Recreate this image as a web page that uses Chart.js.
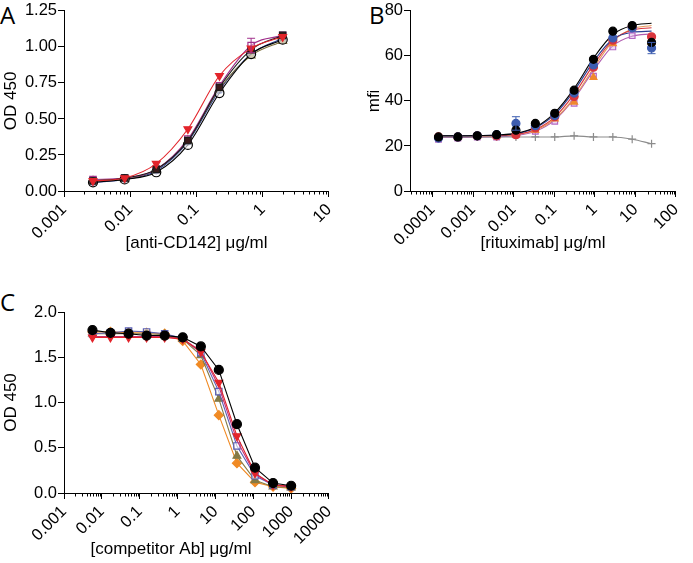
<!DOCTYPE html>
<html><head><meta charset="utf-8">
<script src="https://cdn.jsdelivr.net/npm/chart.js@4/dist/chart.umd.min.js"></script>
<style>
html,body{margin:0;padding:0;background:#fff;width:693px;height:563px;overflow:hidden;position:relative}
canvas{position:absolute}
.lbl{position:absolute;font-family:"Open Sans",sans-serif;font-size:24px;color:#000;line-height:1}
</style></head><body>
<div class="lbl" style="left:0;top:3px">A</div>
<div class="lbl" style="left:369px;top:3px">B</div>
<div class="lbl" style="left:0;top:290px">C</div>
<canvas id="cA" width="346" height="262" style="left:0;top:0"></canvas>
<canvas id="cB" width="347" height="262" style="left:346px;top:0"></canvas>
<canvas id="cC" width="346" height="293" style="left:0;top:270px"></canvas>
<script>
// ---------- Panel A ----------
const concA = [0.00274, 0.00823, 0.0247, 0.0741, 0.222, 0.667, 2];
const A_openCircle = [0.06, 0.08, 0.13, 0.32, 0.68, 0.95, 1.05];
const A_blackSquare = [0.07, 0.09, 0.15, 0.35, 0.72, 0.98, 1.08];
const A_redTriangle = [0.07, 0.09, 0.19, 0.43, 0.80, 0.99, 1.07];
const A_magentaSquare = [0.08, 0.09, 0.15, 0.36, 0.73, 1.01, 1.08];
const A_oliveTriangle = [0.07, 0.08, 0.15, 0.35, 0.71, 0.94, 1.04];
const A_blue = [0.06, 0.08, 0.14, 0.34, 0.70, 0.95, 1.06];
const xTicksA = [0.001, 0.01, 0.1, 1, 10];
const yTicksA = [0, 0.25, 0.5, 0.75, 1.0, 1.25];
const errA = [[3, 5, 0.96, 1.06]];

// ---------- Panel B ----------
const concB = [0.000141, 0.000423, 0.00127, 0.00381, 0.0114, 0.0343, 0.103, 0.309, 0.926, 2.78, 8.33, 25];
const B_black = [24, 24, 24.5, 25, 27, 30, 34.5, 44.8, 58.5, 71, 73.5, 66];
const B_blue = [23.5, 24, 24.5, 25, 30, 29, 33.5, 43.5, 56, 68, 72.5, 63.5];
const B_red = [24, 24, 24.5, 24.5, 25, 28, 33, 42, 55, 67, 73, 68.5];
const B_orange = [24, 24, 24.5, 24.5, 25, 27, 32, 39.5, 50.5, 65.5, 72.5, 66];
const B_pink = [23, 23.5, 24, 24, 25, 26.5, 31, 39, 51, 64, 69, 65];
const B_control = [24, 24, 24, 24, 24, 24, 24, 24.5, 24, 24, 23, 21];
const B_fitBlack = [24.5, 24.5, 24.6, 24.9, 25.6, 28.3, 34.8, 45.5, 59, 69.5, 73.5, 74.5];
const B_fitBlue = [24.5, 24.5, 24.6, 24.9, 25.5, 28, 34, 44.5, 57.5, 67.5, 70.5, 71];
const B_fitRed = [24.3, 24.3, 24.4, 24.6, 25.1, 27.3, 32.8, 43, 56, 67, 71.5, 72.5];
const B_fitOrange = [24.3, 24.3, 24.4, 24.6, 25, 27, 32, 41.5, 54.5, 66.5, 72, 73.5];
const B_fitPink = [23.8, 23.8, 23.9, 24.1, 24.6, 26.5, 31.5, 41, 53.5, 64.5, 68.8, 69.8];
const xTicksB = [0.0001, 0.001, 0.01, 0.1, 1, 10, 100];
const yTicksB = [0, 20, 40, 60, 80];
const errB = [[1, 4, 27, 33], [1, 11, 61, 66]];

// ---------- Panel C ----------
const concC = [0.00565, 0.0169, 0.0508, 0.152, 0.457, 1.37, 4.12, 12.3, 37, 111, 333, 1000];
const C_black = [1.80, 1.77, 1.76, 1.74, 1.74, 1.72, 1.62, 1.36, 0.76, 0.28, 0.11, 0.08];
const C_red = [1.72, 1.72, 1.72, 1.72, 1.72, 1.70, 1.56, 1.22, 0.63, 0.22, 0.09, 0.07];
const C_magenta = [1.73, 1.73, 1.73, 1.73, 1.73, 1.70, 1.57, 1.18, 0.58, 0.21, 0.09, 0.07];
const C_purpleSquare = [1.76, 1.77, 1.79, 1.78, 1.76, 1.71, 1.55, 1.12, 0.52, 0.19, 0.09, 0.07];
const C_olive = [1.76, 1.76, 1.76, 1.76, 1.75, 1.70, 1.52, 1.04, 0.41, 0.14, 0.07, 0.06];
const C_orange = [1.78, 1.78, 1.77, 1.77, 1.76, 1.68, 1.42, 0.86, 0.33, 0.12, 0.07, 0.05];
const xTicksC = [0.001, 0.01, 0.1, 1, 10, 100, 1000, 10000];
const yTicksC = [0, 0.5, 1.0, 1.5, 2.0];

const FONT = '"Liberation Sans", Arial, sans-serif';
const pts = (xs, ys) => xs.map((x, i) => ({x, y: ys[i]}));

const minorTicks = {
  id: 'minorTicks',
  afterDraw(chart) {
    const s = chart.scales.x, ctx = chart.ctx;
    ctx.save(); ctx.strokeStyle = '#000'; ctx.lineWidth = 1;
    const lo = Math.floor(Math.log10(s.min)), hi = Math.ceil(Math.log10(s.max));
    for (let e = lo; e < hi; e++) for (let k = 2; k <= 9; k++) {
      const v = k * Math.pow(10, e);
      if (v < s.min || v > s.max) continue;
      const x = Math.round(s.getPixelForValue(v)) + 0.5;
      ctx.beginPath(); ctx.moveTo(x, s.top); ctx.lineTo(x, s.top + 3.5); ctx.stroke();
    }
    ctx.restore();
  }
};
const errorBars = {
  id: 'errorBars',
  afterDatasetsDraw(chart, args, opts) {
    const list = opts.list || []; if (!list.length) return;
    const ctx = chart.ctx, xs = chart.scales.x, ys = chart.scales.y;
    ctx.save(); ctx.lineWidth = 1;
    list.forEach(([di, pi, lo, hi]) => {
      const ds = chart.data.datasets[di]; const p = ds.data[pi];
      const x = xs.getPixelForValue(p.x);
      ctx.strokeStyle = ds.borderColor;
      [lo, hi].forEach(v => {
        const y = ys.getPixelForValue(v), y0 = ys.getPixelForValue(p.y);
        ctx.beginPath(); ctx.moveTo(x, y0); ctx.lineTo(x, y);
        ctx.moveTo(x - 4, y); ctx.lineTo(x + 4, y); ctx.stroke();
      });
    });
    ctx.restore();
  }
};

function fmtLog(v) { return String(Number(v.toPrecision(1))); }

function makeChart(id, datasets, o) {
  return new Chart(document.getElementById(id), {
    type: 'scatter',
    data: { datasets },
    plugins: [minorTicks, errorBars],
    options: {
      responsive: false, animation: false, devicePixelRatio: 1,
      layout: { padding: o.padding },
      plugins: { legend: { display: false }, tooltip: { enabled: false }, errorBars: { list: o.err || [] } },
      scales: {
        x: {
          type: 'logarithmic', min: o.xmin, max: o.xmax,
          afterBuildTicks: s => { s.ticks = o.xt.map(v => ({ value: v, major: true })); },
          afterFit: s => { s.height = o.xh; },
          ticks: { autoSkip: false, minRotation: 45, maxRotation: 45, color: '#000', padding: 3,
                   font: { family: FONT, size: 16.5 }, callback: v => fmtLog(v) },
          grid: { display: true, drawOnChartArea: false, drawTicks: true, tickLength: 6, tickColor: '#000', color: '#000' },
          border: { display: true, color: '#000', width: 1 },
          title: { display: true, text: o.xtitle, color: '#000', font: { family: FONT, size: 17 }, padding: { top: 0, bottom: o.xtp } }
        },
        y: {
          type: 'linear', min: o.ymin, max: o.ymax,
          afterBuildTicks: s => { s.ticks = o.yt.map(v => ({ value: v })); },
          afterFit: s => { s.width = 64; },
          ticks: { color: '#000', padding: 1, font: { family: FONT, size: 16.5 }, callback: v => o.yfmt(v) },
          grid: { display: true, drawOnChartArea: false, drawTicks: true, tickLength: 6, tickColor: '#000', color: '#000' },
          border: { display: true, color: '#000', width: 1 },
          title: { display: true, text: o.ytitle, color: '#000', font: { family: FONT, size: 17 }, padding: { top: o.ytp, bottom: 0 } }
        }
      }
    }
  });
}

function mark(data, style, color, fill, extra) {
  return Object.assign({ data, showLine: false, pointStyle: style, pointRadius: 4.5, borderColor: color,
    backgroundColor: fill, pointBorderWidth: 1.2 }, extra || {});
}
function curve(data, color, extra) {
  return Object.assign({ data, showLine: true, pointRadius: 0, borderColor: color, borderWidth: 1.1,
    cubicInterpolationMode: 'monotone', fill: false }, extra || {});
}
function markLine(data, style, color, fill, extra) {
  return Object.assign({ data, showLine: true, pointStyle: style, pointRadius: 4.5, borderColor: color,
    backgroundColor: fill, borderWidth: 1.1, pointBorderWidth: 1.2, tension: 0 }, extra || {});
}

// Panel A: markers with smooth curves
makeChart('cA', [
  markLine(pts(concA, A_redTriangle), 'triangle', '#e3242b', '#e3242b', { rotation: 180, cubicInterpolationMode: 'monotone' }),
  markLine(pts(concA, A_blackSquare), 'rect', '#1a1a1a', '#3a1a1a', { cubicInterpolationMode: 'monotone' }),
  markLine(pts(concA, A_openCircle), 'circle', '#000', 'rgba(255,255,255,0.6)', { cubicInterpolationMode: 'monotone' }),
  markLine(pts(concA, A_magentaSquare), 'rect', '#a0308c', 'rgba(255,255,255,0.5)', { cubicInterpolationMode: 'monotone' }),
  markLine(pts(concA, A_oliveTriangle), 'triangle', '#7d6f3a', '#8c7a3a', { cubicInterpolationMode: 'monotone' }),
  markLine(pts(concA, A_blue), 'circle', '#2b3f94', '#2b3f94', { cubicInterpolationMode: 'monotone', pointRadius: 3 })
], { padding: { top: 10, right: 9, left: 0, bottom: 0 }, xmin: 0.001, xmax: 10, xt: xTicksA, xh: 71, xtp: 8,
     xtitle: '[anti-CD142] \u03bcg/ml', ymin: 0, ymax: 1.25, yt: yTicksA, yfmt: v => v.toFixed(2), ytitle: 'OD 450', ytp: 1, err: errA });

// Panel B
makeChart('cB', [
  mark(pts(concB, B_black), 'circle', '#000', '#000', { pointRadius: 4 }),
  mark(pts(concB, B_blue), 'circle', '#3d5db0', '#3d5db0', { pointRadius: 4 }),
  mark(pts(concB, B_red), 'circle', '#d9363e', '#d9363e', { pointRadius: 4 }),
  mark(pts(concB, B_orange), 'triangle', '#f0892e', '#f0892e', { pointRadius: 4 }),
  mark(pts(concB, B_pink), 'rect', '#b46ac4', 'rgba(220,180,230,0.5)', { pointRadius: 4 }),
  markLine(pts(concB, B_control), 'cross', '#8c8c8c', '#8c8c8c', { pointRadius: 4, borderWidth: 1.1, cubicInterpolationMode: 'monotone' }),
  curve(pts(concB, B_fitBlack), '#000'),
  curve(pts(concB, B_fitBlue), '#2b3f94'),
  curve(pts(concB, B_fitRed), '#d9363e'),
  curve(pts(concB, B_fitOrange), '#e59a5a'),
  curve(pts(concB, B_fitPink), '#b05cb0')
], { padding: { top: 10, right: 11, left: 0, bottom: 0 }, xmin: 2.8e-5, xmax: 100, xt: xTicksB, xh: 71, xtp: 8,
     xtitle: '[rituximab] \u03bcg/ml', ymin: 0, ymax: 80, yt: yTicksB, yfmt: v => String(v), ytitle: 'mfi', ytp: 18, err: errB });

// Panel C
makeChart('cC', [
  markLine(pts(concC, C_black), 'circle', '#000', '#000', { pointRadius: 4.5 }),
  markLine(pts(concC, C_red), 'triangle', '#e3242b', '#e3242b', { rotation: 180 }),
  markLine(pts(concC, C_magenta), 'circle', '#c0347a', '#c0347a', { pointRadius: 0 }),
  markLine(pts(concC, C_purpleSquare), 'rect', '#6e62c0', 'rgba(255,255,255,0.6)', { borderColor: '#5a5fb5' }),
  markLine(pts(concC, C_olive), 'triangle', '#857a45', '#857a45'),
  markLine(pts(concC, C_orange), 'rectRot', '#f08a24', '#f08a24')
], { padding: { top: 42, right: 8, left: 0, bottom: 0 }, xmin: 0.001, xmax: 10000, xt: xTicksC, xh: 70, xtp: 3,
     xtitle: '[competitor Ab] \u03bcg/ml\u2003\u2003\u2003', ymin: 0, ymax: 2.0, yt: yTicksC, yfmt: v => v.toFixed(1), ytitle: 'OD 450', ytp: 1 });
</script>
</body></html>
